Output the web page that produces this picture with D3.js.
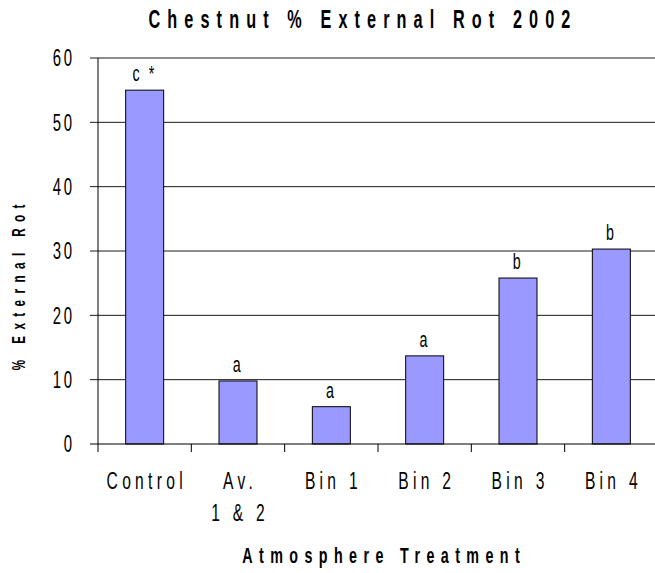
<!DOCTYPE html>
<meta charset="utf-8">
<script src="https://d3js.org/d3.v7.min.js"></script>
<style>
    body { margin: 0; background: #fff; }
    text { font-family: "Liberation Sans", Arial, sans-serif; fill: #000; }
</style>
<div id="chart"></div>
<script>

    // data
    const categories = ["Control", "Av.\n1 & 2", "Bin 1", "Bin 2", "Bin 3", "Bin 4"];
    const rotValues = [55, 9.8, 5.8, 13.7, 25.8, 30.3];
    const letters = ["c *", "a", "a", "a", "b", "b"];
    const yTicks = [0, 10, 20, 30, 40, 50, 60];

    const margin = {top: 58, right: -3, bottom: 129, left: 98},
        W = 655, H = 573,
        width = W - margin.left - margin.right,
        height = H - margin.top - margin.bottom;

    // the original type is condensed and widely spaced
    const SX = 0.65;

    const svg = d3.select("#chart")
        .append("svg")
        .attr("width", W)
        .attr("height", H);

    // text squeezed horizontally; spacing is given in screen px
    function label(parent, x, y, str, o) {
        const gg = parent.append("g")
            .attr("transform", `translate(${x},${y})${o.rot ? " rotate(" + o.rot + ")" : ""} scale(${SX},1)`);
        const t = gg.append("text")
            .attr("text-anchor", o.anchor || "middle")
            .style("font-size", o.size + "px")
            .style("font-weight", o.bold ? "bold" : "normal")
            .style("letter-spacing", (o.sp / SX) + "px")
            .text(str);
        if (o.dy) t.attr("dy", o.dy);
        return t;
    }

    const g = svg.append("g")
        .attr("transform", `translate(${margin.left}, ${margin.top})`);

    const x = d3.scaleBand()
        .domain(categories)
        .range([0, width])
        .padding(0);

    const y = d3.scaleLinear()
        .domain([0, 60])
        .range([height, 0]);

    // gridlines + left ticks
    g.selectAll(".grid")
        .data(yTicks.filter(d => d > 0))
        .join("line")
        .attr("x1", -8)
        .attr("x2", width)
        .attr("y1", d => y(d))
        .attr("y2", d => y(d))
        .attr("stroke", "#1a1a1a")
        .attr("stroke-width", 1);

    // y tick labels
    yTicks.forEach(d => {
        label(g, -23.3, y(d), String(d), {size: 23, sp: 2.7, anchor: "end", dy: "0.36em"});
    });

    // bars
    const bw = 38;
    g.selectAll(".bar")
        .data(rotValues)
        .join("rect")
        .attr("x", (d, i) => x(categories[i]) + x.bandwidth() / 2 - bw / 2)
        .attr("y", d => y(d))
        .attr("width", bw)
        .attr("height", d => height - y(d))
        .attr("fill", "#9999ff")
        .attr("stroke", "#000")
        .attr("stroke-width", 1);

    // significance letters
    rotValues.forEach((d, i) => {
        label(g, x(categories[i]) + x.bandwidth() / 2, y(d) - 9, letters[i], {size: 22, sp: 2.5});
    });

    // axes lines
    g.append("line")
        .attr("x1", 0).attr("x2", 0)
        .attr("y1", 0).attr("y2", height + 8)
        .attr("stroke", "#000");
    g.append("line")
        .attr("x1", -8).attr("x2", width)
        .attr("y1", height).attr("y2", height)
        .attr("stroke", "#000");

    // x ticks at category boundaries
    g.selectAll(".xtick")
        .data(categories.slice(1))
        .join("line")
        .attr("x1", d => x(d)).attr("x2", d => x(d))
        .attr("y1", height).attr("y2", height + 8)
        .attr("stroke", "#000");

    // x labels
    categories.forEach(c => {
        c.split("\n").forEach((line, k) => {
            label(g, x(c) + x.bandwidth() / 2 + 2.1, height + 45 + k * 32, line, {size: 24, sp: 4.3});
        });
    });

    // title
    label(svg, 363, 28, "Chestnut % External Rot 2002", {size: 25, sp: 7.1, bold: true});

    // x axis title
    label(svg, 384.2, 563, "Atmosphere Treatment", {size: 22, sp: 6.4, bold: true});

    // y axis title
    label(svg, 25, 284.2, "% External Rot", {size: 18, sp: 6.4, bold: true, rot: -90});
</script>
